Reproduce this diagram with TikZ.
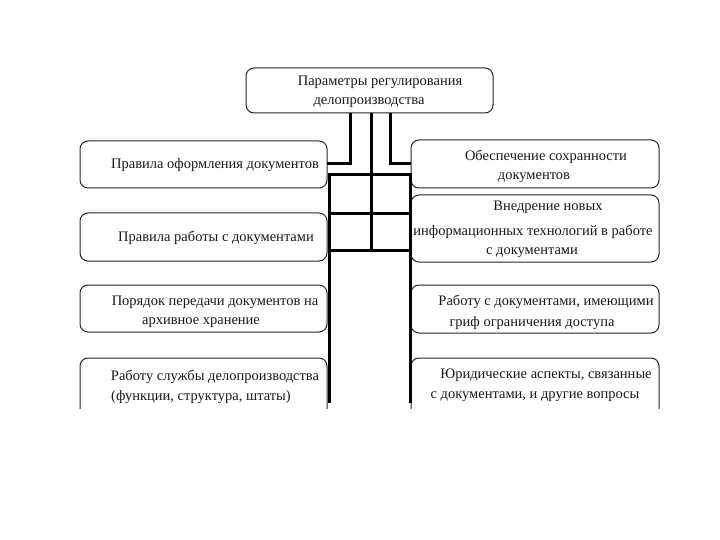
\documentclass[tikz,border=0pt]{standalone}
\usepackage{fontspec}
\setmainfont{Liberation Serif}
\begin{document}
\begin{tikzpicture}[x=1pt,y=-1pt,
  box/.style={draw=black!85,line width=1pt,rounded corners=8pt},
  txt/.style={inner sep=0pt,font=\fontsize{14.5}{17}\selectfont,text=black!90},
  conn/.style={line width=3pt,black}]
\useasboundingbox[fill=white] (0,0) rectangle (720,540);
% boxes
\draw[box] (246,68) rectangle (493,113);
\draw[box] (80,141) rectangle (327,188);
\draw[box] (80,213) rectangle (327,261);
\draw[box] (80,285) rectangle (327,332);
\draw[box] (411,140) rectangle (659,188);
\draw[box] (411,195) rectangle (659,262);
\draw[box] (411,285) rectangle (659,333);
\begin{scope}
\clip (0,0) rectangle (720,408);
\draw[box] (80,358) rectangle (327,420);
\draw[box] (411,358) rectangle (659,420);
\end{scope}
% texts
\node[txt] (t1) at (380,82) {Параметры регулирования};
\node[txt] (t2) at (369,103) {делопроизводства};
\node[txt] (l1a) at (215,165) {Правила оформления документов};
\node[txt] (l2a) at (216,238) {Правила работы с документами};
\node[txt] (l3a) at (215,302) {Порядок передачи документов на};
\node[txt] (l3b) at (201,323) {архивное хранение};
\node[txt] (l4a) at (215,377) {Работу службы делопроизводства};
\node[txt] (l4b) at (201,397) {(функции, структура, штаты)};
\node[txt] (r1a) at (546,157) {Обеспечение сохранности};
\node[txt] (r1b) at (534,178) {документов};
\node[txt] (r2a) at (548,207) {Внедрение новых};
\node[txt] (r2b) at (533,232) {информационных технологий в работе};
\node[txt] (r2c) at (532,253) {с документами};
\node[txt] (r3a) at (546,302) {Работу с документами, имеющими};
\node[txt] (r3b) at (532,323) {гриф ограничения доступа};
\node[txt] (r4a) at (546,375) {Юридические аспекты, связанные};
\node[txt] (r4b) at (535,397) {с документами, и другие вопросы};
% connectors
\coordinate (a1) at (350,113);
\coordinate (a2) at (371,113);
\coordinate (a3) at (390,113);
\coordinate (l1) at (327,164);
\coordinate (r1) at (411,164);
\coordinate (m) at (371,250);
\coordinate (lt) at (329,175);
\coordinate (lb) at (329,403);
\coordinate (rt) at (410,175);
\coordinate (rb) at (410,403);
\coordinate (hl2) at (329,214);
\coordinate (hr2) at (410,214);
\coordinate (hl3) at (329,250);
\coordinate (hr3) at (410,250);
\draw[conn] (a1) |- (l1);
\draw[conn] (a3) |- (r1);
\draw[conn] (a2) -- (m);
\draw[conn] (lb) -- (lt) -- (rt) -- (rb);
\draw[conn] (hl2) -- (hr2);
\draw[conn] (hl3) -- (hr3);
\end{tikzpicture}
\end{document}
